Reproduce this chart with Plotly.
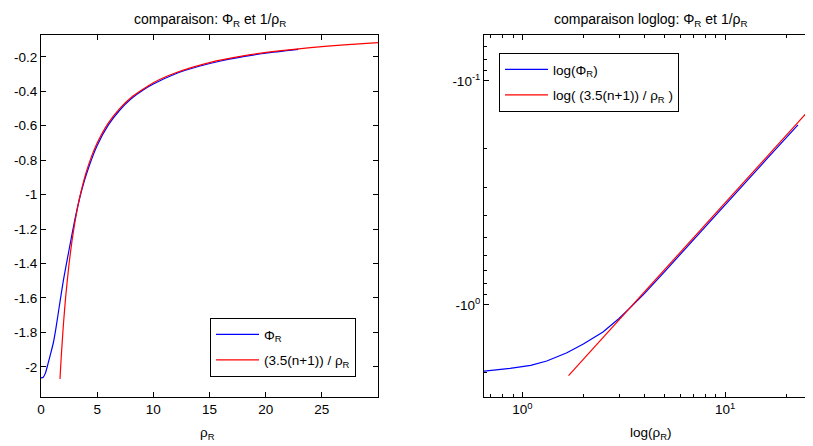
import plotly.graph_objects as go

# ---- data ----
rho_phi = [0, 0.2, 0.4, 0.65, 0.87, 1.1, 1.32, 1.66, 2.0, 2.5, 3.0, 3.5, 4.0, 5, 6, 7, 8, 9, 10,
           12, 14, 16, 18, 20, 22.9]
phi_R = [-2.064, -2.06, -2.035, -1.975, -1.92, -1.86, -1.78, -1.635, -1.495, -1.32, -1.15, -1.005,
         -0.89, -0.715, -0.595, -0.51, -0.445, -0.397, -0.358, -0.298, -0.256, -0.224, -0.199,
         -0.179, -0.157]

rho_fit = [1.69, 1.8, 2.0, 2.2, 2.5, 2.75, 3.0, 3.25, 3.5, 4.0, 4.5, 5, 6, 7, 8, 10, 12, 15, 18,
           21, 24, 27, 30]
phi_fit = [-2.07, -1.944, -1.75, -1.591, -1.4, -1.273, -1.167, -1.077, -1.0, -0.875, -0.778, -0.7,
           -0.583, -0.5, -0.4375, -0.35, -0.292, -0.233, -0.194, -0.167, -0.146, -0.130, -0.117]

lin_xticks = [0, 5, 10, 15, 20, 25]
lin_yticks = [-2, -1.8, -1.6, -1.4, -1.2, -1, -0.8, -0.6, -0.4, -0.2]
lin_ylabels = ["-2", "-1.8", "-1.6", "-1.4", "-1.2", "-1", "-0.8", "-0.6", "-0.4", "-0.2"]

log_xticks = [1, 10]
log_xlabels = ["10<sup>0</sup>", "10<sup>1</sup>"]
log_xminor = [0.7, 0.8, 0.9, 2, 3, 4, 5, 6, 7, 8, 9, 20, 30]
log_yticks = [0.1, 1]
log_ylabels = ["-10<sup>-1</sup>", "-10<sup>0</sup>"]
log_yminor = [0.07, 0.08, 0.09, 0.2, 0.3, 0.4, 0.5, 0.6, 0.7, 0.8, 0.9, 2]

BLUE = "#0000FF"
RED = "#FF0000"
FONT = "Liberation Sans, Arial, sans-serif"
FS = 13.5

fig = go.Figure()

# left: linear
fig.add_trace(go.Scatter(x=rho_phi, y=phi_R, mode="lines", line=dict(color=BLUE, width=1.2, shape="spline", smoothing=0.6),
                         name="Φ<sub>R</sub>", xaxis="x", yaxis="y", legend="legend", legendgroup="a"))
fig.add_trace(go.Scatter(x=rho_fit, y=phi_fit, mode="lines", line=dict(color=RED, width=1.2, shape="spline", smoothing=0.6),
                         name="(3.5(n+1)) / ρ<sub>R</sub>", xaxis="x", yaxis="y", legend="legend", legendgroup="b"))

# right: loglog of magnitudes on reversed axis (negative values)
fig.add_trace(go.Scatter(x=rho_phi[1:], y=[-v for v in phi_R[1:]], mode="lines",
                         line=dict(color=BLUE, width=1.2),
                         name="log(Φ<sub>R</sub>)", xaxis="x2", yaxis="y2", legend="legend2", legendgroup="c"))
fig.add_trace(go.Scatter(x=rho_fit, y=[-v for v in phi_fit], mode="lines",
                         line=dict(color=RED, width=1.2),
                         name="log( (3.5(n+1)) / ρ<sub>R</sub> )", xaxis="x2", yaxis="y2", legend="legend2", legendgroup="d"))

# page body has an 8px margin: figure is drawn offset by 8px
OFF = 8
W, H = 813 - OFF, 446 - OFF
L, T = 41 - OFF, 35 - OFF
B = H - (397 - OFF)
PW = W - L
PH = H - T - B


def px_x(p):
    return (p - OFF - L) / PW


def px_y(p):
    return (H - B - (p - OFF)) / PH


d1 = [0, px_x(378)]
d2 = [px_x(484), 1]

axcommon = dict(showgrid=False, zeroline=False, showline=True, linecolor="black", linewidth=1,
                automargin=False,
                ticks="inside", ticklen=5, tickcolor="black", tickfont=dict(family=FONT, size=FS, color="black"))

legcommon = dict(xanchor="left", yanchor="top", bordercolor="black", borderwidth=1, bgcolor="white",
                 font=dict(family=FONT, size=FS, color="black"), tracegroupgap=5, itemwidth=43)

fig.update_layout(
    template="none",
    width=W, height=H,
    margin=dict(l=L, r=0, t=T, b=B, pad=0),
    paper_bgcolor="white", plot_bgcolor="white",
    font=dict(family=FONT, size=FS, color="black"),
    xaxis=dict(domain=d1, range=[0, 30], tickmode="array", tickvals=lin_xticks,
               ticktext=[str(v) for v in lin_xticks], mirror="ticks", anchor="y", **axcommon),
    yaxis=dict(domain=[0, 1], range=[-2.175, -0.073], tickmode="array", tickvals=lin_yticks,
               ticktext=lin_ylabels, mirror="ticks", anchor="x", **axcommon),
    xaxis2=dict(domain=d2, type="log", range=[-0.189, 1.434], tickmode="array", tickvals=log_xticks,
                ticktext=log_xlabels, mirror="ticks", anchor="y2",
                minor=dict(tickmode="array", tickvals=log_xminor, ticks="inside", ticklen=3, tickcolor="black"),
                **axcommon),
    yaxis2=dict(domain=[0, 1], type="log", range=[0.411, -1.205], tickmode="array", tickvals=log_yticks,
                ticktext=log_ylabels, mirror=False, anchor="x2",
                minor=dict(tickmode="array", tickvals=log_yminor, ticks="inside", ticklen=3, tickcolor="black"),
                **axcommon),
    legend=dict(x=px_x(210), y=px_y(318), **legcommon),
    legend2=dict(x=px_x(499), y=px_y(53), **legcommon),
    showlegend=True,
)

fig.add_annotation(text="comparaison: Φ<sub>R</sub> et 1/ρ<sub>R</sub>", xref="paper", yref="paper",
                   x=px_x(209.5), y=1, xanchor="center", yanchor="bottom", yshift=4, showarrow=False,
                   font=dict(family=FONT, size=14, color="black"))
fig.add_annotation(text="comparaison loglog: Φ<sub>R</sub> et 1/ρ<sub>R</sub>", xref="paper", yref="paper",
                   x=px_x(651), y=1, xanchor="center", yanchor="bottom", yshift=4, showarrow=False,
                   font=dict(family=FONT, size=14, color="black"))
fig.add_annotation(text="ρ<sub>R</sub>", xref="paper", yref="paper",
                   x=px_x(207), y=0, xanchor="center", yanchor="top", yshift=-26, showarrow=False,
                   font=dict(family=FONT, size=FS, color="black"))
fig.add_annotation(text="log(ρ<sub>R</sub>)", xref="paper", yref="paper",
                   x=px_x(651), y=0, xanchor="center", yanchor="top", yshift=-26, showarrow=False,
                   font=dict(family=FONT, size=FS, color="black"))

fig.write_html("out.html")
